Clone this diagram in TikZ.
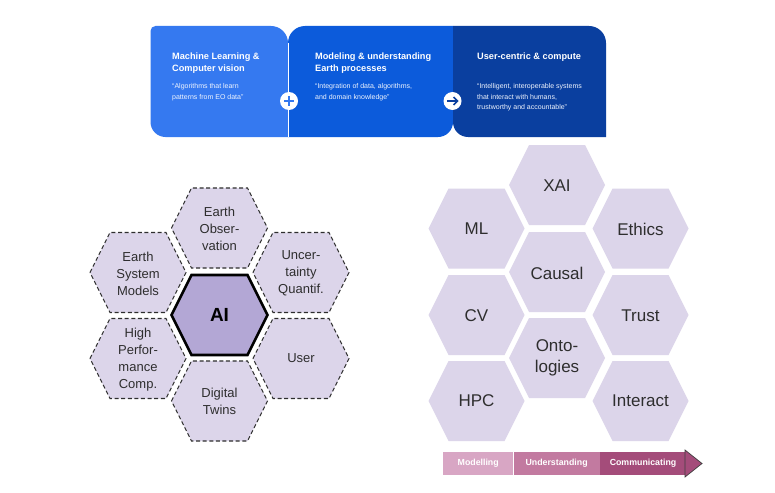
\documentclass[tikz,border=0pt]{standalone}
\usepackage{fontspec}
\setmainfont{Liberation Sans}
\definecolor{pA}{HTML}{3579F0}
\definecolor{pB}{HTML}{0C5BDB}
\definecolor{pC}{HTML}{0A3F9F}
\definecolor{hexfill}{HTML}{DCD5EA}
\definecolor{aifill}{HTML}{B3A7D5}
\definecolor{barA}{HTML}{D8A6C4}
\definecolor{barB}{HTML}{C27AA0}
\definecolor{barC}{HTML}{A44C7A}
\definecolor{txt}{HTML}{2E2E2E}
\begin{document}
\begin{tikzpicture}[x=1pt,y=-1pt,
  hexa/.pic={\path[pic actions] (-48,0) -- (-28,-40) -- (28,-40) -- (48,0) -- (28,40) -- (-28,40) -- cycle;},
  plainhex/.style={fill=hexfill},
  dashhex/.style={fill=hexfill, draw=txt, line width=1.1pt, dash pattern=on 4pt off 2.6pt},
  aihex/.style={fill=aifill, draw=black, line width=2.6pt, line join=miter},
  rlabel/.style={font=\fontsize{17}{21}\selectfont, text=txt, align=center, inner sep=0pt},
  llabel/.style={font=\fontsize{13}{17}\selectfont, text=txt, align=center, inner sep=0pt},
  ttl/.style={font=\bfseries\fontsize{9.2}{12}\selectfont, text=white, align=left, inner sep=0pt, anchor=north west},
  subt/.style={font=\fontsize{7}{10.8}\selectfont, text=white!92!pA, align=left, inner sep=0pt, anchor=north west},
  joint/.style={circle, fill=white, minimum size=18pt, inner sep=0pt},
  barseg/.style={minimum height=23pt, inner sep=0pt, anchor=west, text=white, font=\bfseries\fontsize{8.8}{10}\selectfont}
]
\useasboundingbox[fill=white] (0,0) rectangle (775,492);

% ---------- banner panels ----------
\fill[pA] (155.5,26) -- (271,26) .. controls (280.4,26) and (288,33.6) .. (288,43) -- (288,137)
  -- (165.5,137) .. controls (157.2,137) and (150.5,130.3) .. (150.5,122) -- (150.5,31)
  .. controls (150.5,28.2) and (152.7,26) .. (155.5,26) -- cycle;
\fill[pB] (288,137) -- (288,43) .. controls (288,33.6) and (295.6,26) .. (305,26) -- (453,26)
  -- (453,122) .. controls (453,130.3) and (446.3,137) .. (438,137) -- cycle;
\fill[pC] (453,26) -- (589,26) .. controls (598.4,26) and (606,33.6) .. (606,43) -- (606,137)
  -- (468,137) .. controls (459.7,137) and (453,130.3) .. (453,122) -- cycle;
\draw[white, line width=0.9pt] (288,43) -- (288,137);

\node[ttl] (t1) at (172,52.5) {Machine Learning \&\\Computer vision};
\node[subt] (s1) at (172,83) {“Algorithms that learn\\patterns from EO data”};
\node[ttl] (t2) at (315,52.5) {Modeling \& understanding\\Earth processes};
\node[subt] (s2) at (315,83) {“Integration of data, algorithms,\\and domain knowledge”};
\node[ttl] (t3) at (477,52.5) {User-centric \& compute};
\node[subt] (s3) at (477,83) {“Intelligent, interoperable systems\\that interact with humans,\\trustworthy and accountable”};

\node[joint] (plus) at (289,101) {};
\draw[pA, line width=1.6pt] ([xshift=-5pt]plus.center) -- ([xshift=5pt]plus.center);
\draw[pA, line width=1.6pt] ([yshift=-5pt]plus.center) -- ([yshift=5pt]plus.center);
\node[joint] (arr) at (452.5,101) {};
\draw[pC, line width=1.6pt] ([xshift=-5.5pt]arr.center) -- ([xshift=5pt]arr.center);
\draw[pC, line width=1.6pt, line join=miter] ([xshift=1pt,yshift=4pt]arr.center) -- ([xshift=5pt]arr.center) -- ([xshift=1pt,yshift=-4pt]arr.center);

% ---------- left cluster ----------
\pic[dashhex] at (219.5,228) {hexa};
\pic[dashhex] at (138,272.5) {hexa};
\pic[dashhex] at (301,272.5) {hexa};
\pic[dashhex] at (138,358.5) {hexa};
\pic[dashhex] at (301,358.5) {hexa};
\pic[dashhex] at (219.5,401) {hexa};
\pic[aihex] at (219.5,315) {hexa};

\node[llabel] (eo) at (219.5,229) {Earth\\Obser-\\vation};
\node[llabel] (esm) at (138,273.5) {Earth\\System\\Models};
\node[llabel] (uq) at (301,273.5) {Uncer-\\tainty\\Quantif.};
\node[llabel] (hpcl) at (138,359.5) {High\\Perfor-\\mance\\Comp.};
\node[llabel] (user) at (301,358.5) {User};
\node[llabel] (dt) at (219.5,401.5) {Digital\\Twins};
\node[font=\bfseries\fontsize{19}{22}\selectfont, text=black, inner sep=0pt] (ai) at (219.5,315) {AI};

% ---------- right cluster ----------
\pic[plainhex] at (557,185) {hexa};
\pic[plainhex] at (476.5,228.5) {hexa};
\pic[plainhex] at (640.5,228.5) {hexa};
\pic[plainhex] at (557,272) {hexa};
\pic[plainhex] at (476.5,315) {hexa};
\pic[plainhex] at (640.5,315) {hexa};
\pic[plainhex] at (557,358) {hexa};
\pic[plainhex] at (476.5,401) {hexa};
\pic[plainhex] at (640.5,401) {hexa};

\node[rlabel] (xai) at (557,186) {XAI};
\node[rlabel] (ml) at (476.5,229) {ML};
\node[rlabel] (eth) at (640.5,229) {Ethics};
\node[rlabel] (cau) at (557,273) {Causal};
\node[rlabel] (cv) at (476.5,315.5) {CV};
\node[rlabel] (tru) at (640.5,315.5) {Trust};
\node[rlabel] (ont) at (557,358) {Onto-\\logies};
\node[rlabel] (hpc) at (476.5,401) {HPC};
\node[rlabel] (inter) at (640.5,401) {Interact};

% ---------- bottom bar ----------
\node[barseg, fill=barA, minimum width=70pt] (mod) at (443,463.5) {Modelling};
\node[barseg, fill=barB, minimum width=86pt] (und) at (mod.east) {Understanding};
\node[barseg, fill=barC, minimum width=86pt] (com) at (und.east) {Communicating};
\draw[fill=barC, draw=black!75, line width=0.7pt, line join=miter] (685,450) -- (702,463.5) -- (685,477) -- cycle;
\end{tikzpicture}
\end{document}
